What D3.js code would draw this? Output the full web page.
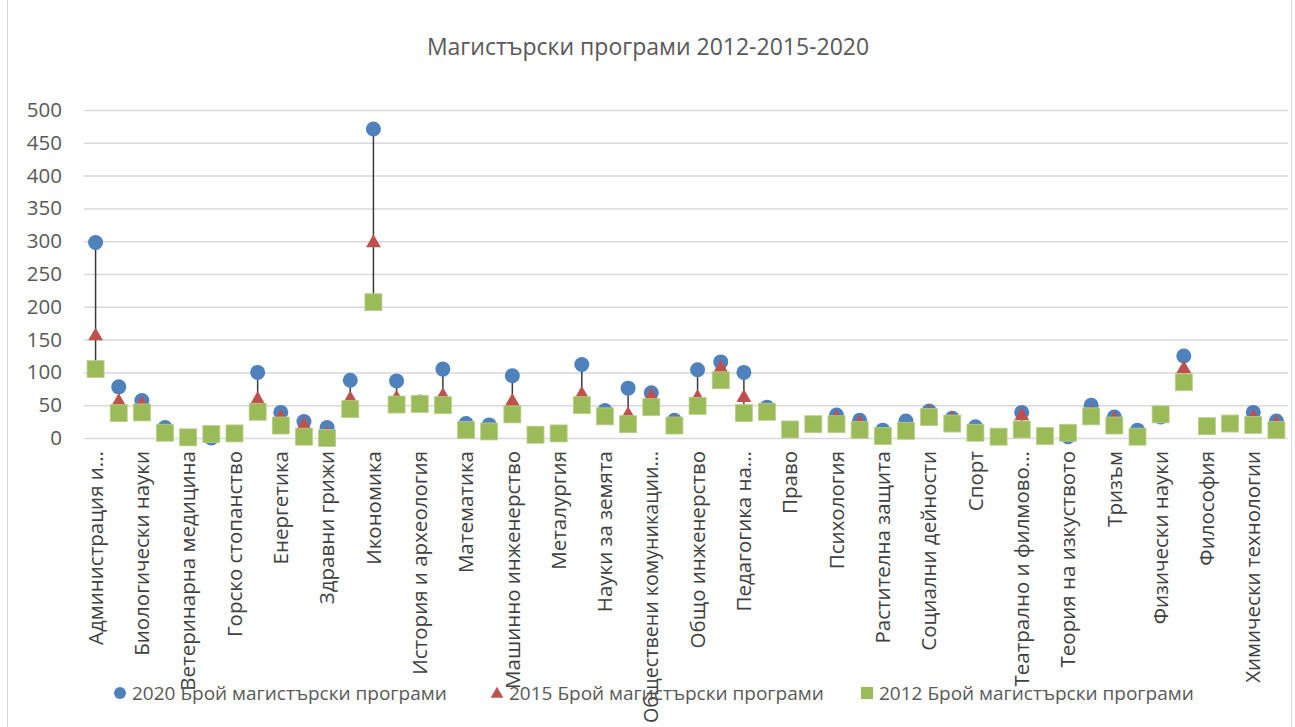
<!DOCTYPE html>
<html>
<head>
<meta charset="utf-8">
<script src="https://cdn.jsdelivr.net/npm/d3@7"></script>
<style>
  html, body { margin: 0; padding: 0; background: #fff; }
  svg { display: block; }
  text { font-family: "Open Sans", "Noto Sans", sans-serif; }
</style>
</head>
<body>
<svg id="chart" width="1295" height="727"></svg>
<script>
// ---- Data ----
const title = "Магистърски програми 2012-2015-2020";
const categories = [
  "Администрация и...", "Архитектура, строителство и геодезия",
  "Биологически науки", "Биотехнологии",
  "Ветеринарна медицина", "Военно дело",
  "Горско стопанство", "Електротехника, електроника и автоматика",
  "Енергетика", "Животновъдство",
  "Здравни грижи", "Изобразително изкуство",
  "Икономика", "Информатика и компютърни науки",
  "История и археология", "Комуникационна и компютърна техника",
  "Математика", "Материали и материалознание",
  "Машинно инженерство", "Медицина",
  "Металургия", "Музикално и танцово изкуство",
  "Науки за земята", "Национална сигурност",
  "Обществени комуникации...", "Обществено здраве",
  "Общо инженерство", "Педагогика",
  "Педагогика на...", "Политически науки",
  "Право", "Природни науки",
  "Психология", "Растениевъдство",
  "Растителна защита", "Религия и теология",
  "Социални дейности", "Социология, антропология и науки за културата",
  "Спорт", "Стоматология",
  "Театрално и филмово...", "Теория и управление на образованието",
  "Теория на изкуството", "Транспорт, корабоплаване и авиация",
  "Тризъм", "Фармация",
  "Физически науки", "Филология",
  "Философия", "Химически науки",
  "Химически технологии", "Хранителни технологии"
];
const values2020 = [
  298, 78, 57, 16, 0, 0, 7, 100, 39, 25, 16, 88,
  471, 87, 55, 105, 22, 20, 95, 5, 7, 112, 42, 76, 69, 27,
  104, 116, 100, 47, 13, 21, 35, 27, 12, 26, 41, 30, 17,
  2, 39, 3, 2, 50, 32, 12, 32, 125, 20, 22, 39, 26
];
const values2015 = [
  157, 57, 53, 10, 0, 4, 7, 60, 33, 21, 8, 61,
  299, 62, 54, 66, 14, 12, 57, 5, 7, 68, 36, 37, 65, 25,
  63, 108, 63, 45, 13, 21, 32, 24, 6, 14, 40, 30, 10,
  2, 35, 3, 5, 40, 30, 6, 35, 107, 19, 22, 33, 23
];
const values2012 = [
  105, 38, 39, 8, 1, 6, 7, 40, 19, 2, 0, 44,
  207, 51, 52, 50, 12, 10, 36, 5, 7, 50, 33, 21, 47, 19,
  49, 88, 38, 40, 13, 21, 21, 12, 3, 11, 32, 22, 8,
  2, 13, 3, 8, 33, 19, 2, 36, 85, 18, 22, 20, 12
];
const yTicks = [0, 50, 100, 150, 200, 250, 300, 350, 400, 450, 500];
const seriesNames = [
  "2020 Брой магистърски програми",
  "2015 Брой магистърски програми",
  "2012 Брой магистърски програми"
];
const seriesColors = ["#4F81BD", "#C0504D", "#9BBB59"];

// ---- Layout ----
const svg = d3.select("#chart");
const W = 1295, H = 727;
const plot = { left: 84, right: 1288, top: 110, bottom: 438 };
const textColor = "#595959";

svg.append("rect")
  .attr("x", 7.5).attr("y", -1).attr("width", 1284).attr("height", H + 2)
  .attr("fill", "#fff").attr("stroke", "#D9D9D9").attr("stroke-width", 1);

const x = d3.scaleBand().domain(categories).range([plot.left, plot.right]).padding(0);
const y = d3.scaleLinear().domain([0, 500]).range([plot.bottom, plot.top]);

// Title
svg.append("text")
  .attr("x", 648).attr("y", 55)
  .attr("text-anchor", "middle")
  .attr("fill", textColor)
  .style("font-size", "23px")
  .text(title);

// Gridlines
const grid = svg.append("g")
  .attr("transform", `translate(${plot.left},0)`)
  .call(d3.axisLeft(y).tickValues(yTicks).tickSize(-(plot.right - plot.left)).tickFormat(""));
grid.select(".domain").remove();
grid.selectAll(".tick line").attr("stroke", "#D9D9D9").attr("stroke-width", 1.5);

// Y axis labels
const yAx = svg.append("g")
  .attr("transform", `translate(${plot.left},0)`)
  .call(d3.axisLeft(y).tickValues(yTicks).tickSize(0).tickPadding(22));
yAx.select(".domain").remove();
yAx.selectAll("text").attr("fill", textColor).style("font-size", "20.5px")
  .style("font-family", "'Open Sans', sans-serif");

// X axis labels (every other category shown)
const shown = categories.filter((d, i) => i % 2 === 0);
const labelStart = 13;
const xAx = svg.append("g")
  .attr("transform", `translate(0,${plot.bottom})`)
  .call(d3.axisBottom(x).tickValues(shown).tickSize(0));
xAx.select(".domain").remove();
xAx.selectAll("text")
  .attr("fill", "#404040")
  .style("font-size", "20.5px")
  .style("font-family", "'Open Sans', sans-serif")
  .attr("text-anchor", "end")
  .attr("transform", "rotate(-90)")
  .attr("x", -labelStart).attr("y", 0).attr("dy", "0.35em")
  .each(function () {
    const maxLen = H - 4 - plot.bottom - labelStart;
    const len = this.getComputedTextLength();
    if (len > maxLen) {
      d3.select(this).attr("textLength", maxLen).attr("lengthAdjust", "spacingAndGlyphs");
    }
  });

// High-low lines
const rows = categories.map((c, i) => ({
  c, v: [values2020[i], values2015[i], values2012[i]]
}));
svg.append("g").selectAll("line").data(rows).join("line")
  .attr("x1", d => x(d.c) + x.bandwidth() / 2)
  .attr("x2", d => x(d.c) + x.bandwidth() / 2)
  .attr("y1", d => y(d3.max(d.v)))
  .attr("y2", d => y(d3.min(d.v)))
  .attr("stroke", "#3a3a3a").attr("stroke-width", 1.5);

const cx = c => x(c) + x.bandwidth() / 2;

// 2020 circles
svg.append("g").selectAll("circle").data(categories).join("circle")
  .attr("cx", d => cx(d))
  .attr("cy", (d, i) => y(values2020[i]))
  .attr("r", 7.5)
  .attr("fill", seriesColors[0]);

// 2015 triangles
const tri = d3.symbol().type(d3.symbolTriangle).size(95);
svg.append("g").selectAll("path").data(categories).join("path")
  .attr("d", tri)
  .attr("transform", (d, i) => `translate(${cx(d)},${y(values2015[i]) + 1})`)
  .attr("fill", seriesColors[1]);

// 2012 squares
const sq = 17;
svg.append("g").selectAll("rect").data(categories).join("rect")
  .attr("x", d => cx(d) - sq / 2)
  .attr("y", (d, i) => y(values2012[i]) - sq / 2)
  .attr("width", sq).attr("height", sq)
  .attr("fill", seriesColors[2])
  .attr("stroke", "#B9CF8E").attr("stroke-width", 0.8);

// Legend
const legendX = [120, 497, 867];
const lg = svg.append("g");
seriesNames.forEach((name, i) => {
  const g = lg.append("g").attr("transform", `translate(${legendX[i]},693)`);
  if (i === 0) g.append("circle").attr("r", 6).attr("fill", seriesColors[0]);
  if (i === 1) g.append("path").attr("d", d3.symbol().type(d3.symbolTriangle).size(70)).attr("transform", "translate(0,1)").attr("fill", seriesColors[1]);
  if (i === 2) g.append("rect").attr("x", -6).attr("y", -6).attr("width", 12).attr("height", 12).attr("fill", seriesColors[2]);
  g.append("text").attr("x", 12).attr("y", 0).attr("dy", "0.35em")
    .attr("fill", textColor).style("font-size", "19px").text(name);
});
</script>
</body>
</html>
